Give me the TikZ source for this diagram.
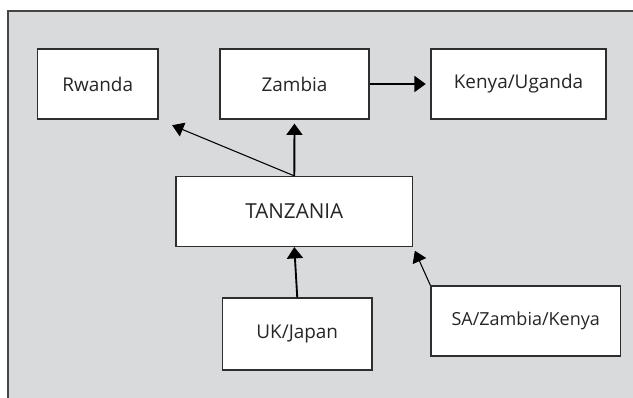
\documentclass[tikz,border=0pt]{standalone}
\usepackage{fontspec}
\setmainfont{Open Sans}
\usetikzlibrary{arrows.meta}
\definecolor{bggray}{HTML}{D9DADC}
\definecolor{framegray}{HTML}{454545}
\definecolor{boxline}{HTML}{2E2E2E}
\definecolor{txt}{HTML}{262626}
\begin{document}
\begin{tikzpicture}[x=0.75pt,y=-0.75pt,
  box/.style={draw=boxline,line width=0.9pt,fill=white,inner sep=0pt,text=txt,
    font=\fontsize{14.2}{17}\selectfont},
  arr/.style={line width=1.4pt,-{Triangle[length=8.5pt,width=12pt]}},
  thinarr/.style={line width=0.8pt,-{Triangle[length=8.5pt,width=11pt]}}]
\useasboundingbox (0,0) rectangle (633,398);
\fill[bggray] (8,11) rectangle (640,405);
\draw[framegray,line width=0.8pt] (8,11) -- (640,11);
\draw[framegray,line width=1.6pt] (8,10.5) -- (8,405);
\node[box,minimum width=120.5*0.75pt,minimum height=70*0.75pt] (rw) at (97.75,84) {Rwanda};
\node[box,minimum width=149*0.75pt,minimum height=70*0.75pt] (za) at (294.5,84) {Zambia};
\node[box,minimum width=175*0.75pt,minimum height=70*0.75pt] (ke) at (518.5,84) {Kenya/Uganda};
\node[box,minimum width=236.6*0.75pt,minimum height=70*0.75pt,
  font=\fontsize{15.5}{18}\selectfont] (tz) at (294.3,211.5) {TANZANIA};
\node[box,minimum width=149.5*0.75pt,minimum height=72*0.75pt] (uk) at (297.25,334) {UK/Japan};
\node[box,minimum width=189.5*0.75pt,minimum height=70*0.75pt,
  font=\fontsize{13.5}{16}\selectfont] (sa) at (525.75,321) {SA/Zambia/Kenya};
\draw[arr,shorten >=3.5pt] (za.east) -- (ke.west);
\draw[arr,shorten >=3pt] (tz.north) -- (za.south);
\draw[thinarr,shorten >=11pt] (tz.north) -- (rw.south east);
\draw[arr] (uk.north) -- (tz.south);
\draw[thinarr,shorten >=3pt] (sa.north west) -- (tz.south east);
\end{tikzpicture}
\end{document}
